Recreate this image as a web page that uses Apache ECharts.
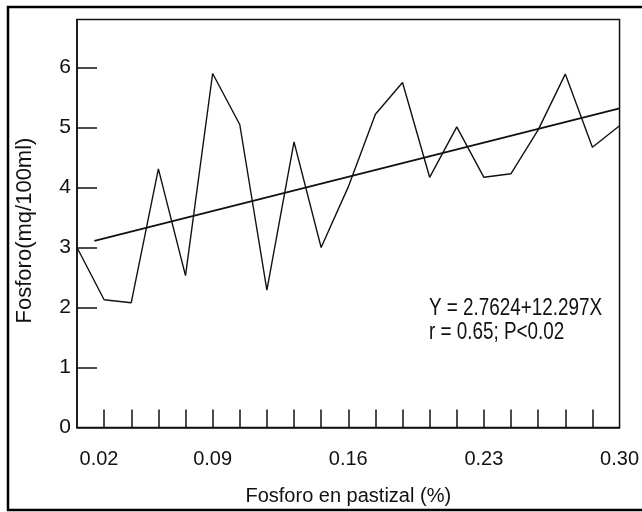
<!DOCTYPE html>
<html>
<head>
<meta charset="utf-8">
<title>Fosforo</title>
<script src="https://cdn.jsdelivr.net/npm/echarts@6.0.0/dist/echarts.min.js"></script>
<style>
html, body { margin: 0; padding: 0; background: #fff; }
#chart { width: 642px; height: 512px; }
</style>
</head>
<body>
<div id="chart"></div>
<script>
// valores
var pastizal = [0.02, 0.034, 0.048, 0.062, 0.076, 0.09, 0.104, 0.118, 0.132, 0.146, 0.16,
    0.174, 0.188, 0.202, 0.216, 0.23, 0.244, 0.258, 0.272, 0.286, 0.30];
var sangre = [3.00, 2.13, 2.08, 4.31, 2.53, 5.90, 5.05, 2.29, 4.76, 3.00, 4.01,
    5.22, 5.75, 4.17, 5.01, 4.17, 4.23, 4.96, 5.89, 4.67, 5.03];
var rectaX = [0.029, 0.30];
var rectaY = [3.11, 5.32];
var xLabels = [0.02, 0.09, 0.16, 0.23, 0.30];
var xTicks = [0.034, 0.048, 0.062, 0.076, 0.09, 0.104, 0.118, 0.132, 0.146, 0.16,
    0.174, 0.188, 0.202, 0.216, 0.23, 0.244, 0.258, 0.272, 0.286];
var yLabels = [0, 1, 2, 3, 4, 5, 6];
var yTicks = [1, 2, 3, 4, 5, 6];
var ecuacion = ['Y = 2.7624+12.297X', 'r = 0.65; P<0.02'];

var fuente = '"Liberation Sans", Arial, sans-serif';

var myChart = echarts.init(document.getElementById('chart'));

var option = {
    animation: false,
    backgroundColor: '#fff',
    grid: {
        left: 77,
        right: 22,
        top: 19.5,
        bottom: 84.5,
        show: true,
        borderColor: '#111',
        borderWidth: 1.5
    },
    xAxis: {
        type: 'value',
        min: 0.02,
        max: 0.30,
        name: 'Fosforo en pastizal (%)',
        nameLocation: 'middle',
        nameGap: 59,
        nameTextStyle: { color: '#111', fontSize: 20, fontFamily: fuente },
        axisLine: { lineStyle: { color: '#111', width: 1.5 } },
        axisTick: {
            inside: true,
            length: 18,
            customValues: xTicks,
            lineStyle: { color: '#111', width: 1.5 }
        },
        axisLabel: {
            customValues: xLabels,
            margin: 22,
            color: '#111',
            fontSize: 20,
            fontFamily: fuente,
            formatter: function (v) {
                var s = v.toFixed(2);
                return v < 0.03 ? '{first|' + s + '}' : s;
            },
            rich: {
                first: { fontSize: 20, fontFamily: fuente, color: '#111', padding: [0, 0, 0, 44] }
            }
        },
        splitLine: { show: false }
    },
    yAxis: {
        type: 'value',
        min: 0,
        max: 6.8,
        name: 'Fosforo(mq/100ml)',
        nameLocation: 'middle',
        nameGap: 41,
        nameTextStyle: { color: '#111', fontSize: 22, fontFamily: fuente, padding: [0, 14, 0, 0] },
        axisLine: { lineStyle: { color: '#111', width: 1.5 } },
        axisTick: {
            inside: true,
            length: 20,
            customValues: yTicks,
            lineStyle: { color: '#111', width: 1.5 }
        },
        axisLabel: {
            customValues: yLabels,
            margin: 6,
            color: '#111',
            fontSize: 21,
            fontFamily: fuente,
            padding: [8, 0, 0, 0]
        },
        splitLine: { show: false }
    },
    series: [{
        name: 'datos',
        type: 'line',
        data: pastizal.map(function (x, i) { return [x, sangre[i]]; }),
        symbol: 'none',
        lineStyle: { color: '#111', width: 1.4 }
    }, {
        name: 'regresion',
        type: 'line',
        data: rectaX.map(function (x, i) { return [x, rectaY[i]]; }),
        symbol: 'none',
        lineStyle: { color: '#111', width: 1.8 }
    }],
    graphic: [{
        type: 'rect',
        silent: true,
        shape: { x: 8, y: 7, width: 660, height: 503 },
        style: { fill: 'none', stroke: '#000', lineWidth: 2.5 }
    }, {
        // texto estrecho como en el original
        type: 'text',
        x: 429,
        y: 297,
        scaleX: 0.82,
        style: {
            text: ecuacion.join('\n'),
            font: '23px ' + fuente,
            lineHeight: 24,
            fill: '#111'
        }
    }]
};

myChart.setOption(option);
window.addEventListener('resize', function () {
    myChart.resize();
});
</script>
</body>
</html>
